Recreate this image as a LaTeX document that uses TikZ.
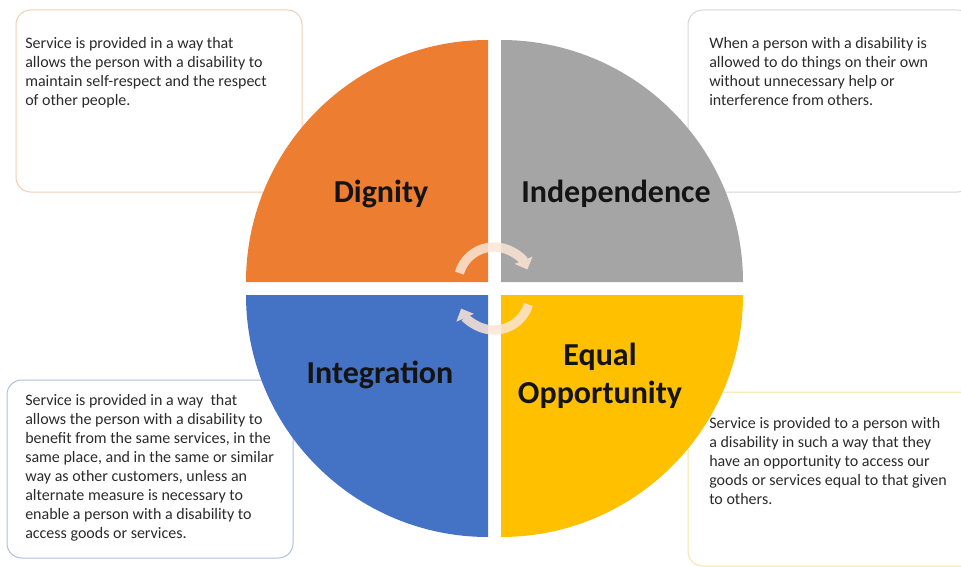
\documentclass[tikz,border=0pt]{standalone}
\usepackage{fontspec}
\setmainfont{Carlito}
\usetikzlibrary{arrows.meta}

% quadrant fills
\definecolor{dignityfill}{HTML}{ED7D31}
\definecolor{independencefill}{HTML}{A5A5A5}
\definecolor{integrationfill}{HTML}{4472C4}
\definecolor{equalityfill}{HTML}{FFC000}
% description box outlines
\definecolor{dignityline}{HTML}{F3CDB3}
\definecolor{independenceline}{HTML}{D6D6D6}
\definecolor{integrationline}{HTML}{AFBFDD}
\definecolor{equalityline}{HTML}{F7E4A6}
% text and centre arrows
\definecolor{bodytext}{HTML}{2B2B2B}
\definecolor{labeltext}{HTML}{141414}
\definecolor{arrowpeach}{HTML}{FBE5D6}

\begin{document}
\begin{tikzpicture}[x=0.75pt,y=0.75pt,
  infobox/.style={rounded corners=11pt, line width=0.75pt, fill=white},
  infotext/.style={anchor=north west, inner sep=0pt, align=left, text=bodytext,
    font=\fontsize{12}{14.2}\selectfont},
  quadlabel/.style={anchor=north, inner sep=0pt, align=center, text=labeltext,
    font=\fontsize{24}{28.5}\selectfont\bfseries},
  cyclearrow/.style={draw=arrowpeach, line width=7pt,
    -{Triangle[width=14pt,length=7.5pt]}}
]
\useasboundingbox (0,0) rectangle (961,-567);
\clip (0,0) rectangle (961,-567);

% description boxes (behind the circle)
\draw[infobox, draw=dignityline] (16,-10) rectangle (302,-192);
\draw[infobox, draw=independenceline] (688,-10) rectangle (972,-192);
\draw[infobox, draw=integrationline] (7,-380) rectangle (293,-558);
\draw[infobox, draw=equalityline] (688,-392) rectangle (978,-566);

\node[infotext] (dignitytext) at (25,-35)
  {\strut Service is provided in a way that\\
   allows the person with a disability to\\
   maintain self-respect and the respect\\
   of other people.};
\node[infotext] (independencetext) at (709,-35)
  {\strut When a person with a disability is\\
   allowed to do things on their own\\
   without unnecessary help or\\
   interference from others.};
\node[infotext] (integrationtext) at (25,-392)
  {\strut Service is provided in a way~ that\\
   allows the person with a disability to\\
   benefit from the same services, in the\\
   same place, and in the same or similar\\
   way as other customers, unless an\\
   alternate measure is necessary to\\
   enable a person with a disability to\\
   access goods or services.};
\node[infotext] (equalitytext) at (709,-415)
  {\strut Service is provided to a person with\\
   a disability in such a way that they\\
   have an opportunity to access our\\
   goods or services equal to that given\\
   to others.};

% four quarter discs, slightly pulled apart
\fill[dignityfill] (488,-282) -- (246,-282)
  arc[start angle=180, end angle=90, radius=181.5pt] -- cycle;
\fill[independencefill] (501,-282) -- (501,-40)
  arc[start angle=90, end angle=0, radius=181.5pt] -- cycle;
\fill[integrationfill] (488,-295) -- (488,-537)
  arc[start angle=270, end angle=180, radius=181.5pt] -- cycle;
\fill[equalityfill] (501,-295) -- (743,-295)
  arc[start angle=0, end angle=-90, radius=181.5pt] -- cycle;

% quadrant titles
\node[quadlabel] (dignity) at (381,-175.4) {\strut Dignity};
\node[quadlabel] (independence) at (616,-175.4) {\strut Independence};
\node[quadlabel] (integration) at (380,-357) {\strut Integration};
\node[quadlabel] (equality) at (600,-338.4) {\strut Equal\\Opportunity};

% circular arrows in the middle
\coordinate (cycletop) at (494,-283);
\coordinate (cyclebottom) at (494,-294);
\begin{scope}[transparency group, opacity=0.85]
  \draw[cyclearrow] ([shift={(164:27pt)}]cycletop)
    arc[start angle=164, end angle=22, radius=27pt];
  \draw[cyclearrow] ([shift={(-17:27pt)}]cyclebottom)
    arc[start angle=-17, end angle=-156, radius=27pt];
\end{scope}
\end{tikzpicture}
\end{document}
